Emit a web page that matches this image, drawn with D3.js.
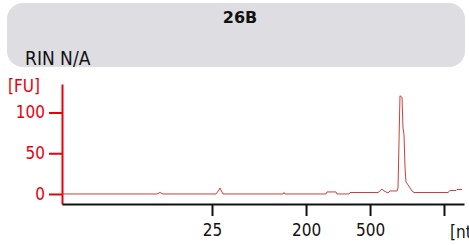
<!DOCTYPE html>
<html>
<head>
<meta charset="utf-8">
<script src="https://cdn.jsdelivr.net/npm/d3@7"></script>
<style>
  body { margin: 0; background: #fff; }
  svg { display: block; font-family: "DejaVu Sans Condensed", "DejaVu Sans", sans-serif; }
</style>
</head>
<body>
<script>
// electropherogram trace: migration time (s) and fluorescence (FU)
const times = [17.00, 29.05, 29.43, 29.81, 36.54, 36.92, 37.05, 37.17, 37.43, 45.04, 45.17, 45.29,
  50.49, 50.62, 51.76, 51.89, 53.41, 53.54, 57.09, 57.34, 57.60, 57.85, 58.11, 58.36, 58.61, 58.87,
  59.50, 59.63, 59.76, 59.88, 60.07, 60.14, 60.26, 60.39, 60.52, 60.64, 60.90, 61.15, 61.40, 61.66,
  65.97, 66.23, 66.99, 67.11, 67.75];
const fu = [0, 0, 1.8, 0, 0, 4.9, 7.4, 4.9, 0, 0, 1.8, 0,
  0, 2.5, 2.5, 0, 0, 1.8, 1.8, 3.7, 6.2, 3.7, 2.5, 1.2, 3.7, 3.7,
  3.7, 7.4, 66.4, 120.5, 119.3, 118.1, 81.2, 72.6, 32.0, 14.8, 11.1, 7.4, 3.7, 1.8,
  1.8, 4.3, 4.3, 5.5, 5.5];

const xTickTimes = [36.03, 47.96, 56.08, 65.46];
const xTickLabels = ['25', '200', '500', ''];
const yTicks = [0, 50, 100];

const sampleName = '26B';
const rinText = 'RIN N/A';

const width = 469, height = 245;

const svg = d3.select('body').append('svg')
    .attr('width', width)
    .attr('height', height);

// header box
svg.append('rect')
    .attr('x', 7)
    .attr('y', 3)
    .attr('width', 458)
    .attr('height', 64)
    .attr('rx', 16)
    .attr('fill', '#dedde2');

svg.append('text')
    .attr('x', 240)
    .attr('y', 23)
    .attr('text-anchor', 'middle')
    .attr('font-family', 'DejaVu Sans')
    .attr('font-weight', 'bold')
    .attr('font-size', 16)
    .attr('fill', '#111')
    .text(sampleName);

svg.append('text')
    .attr('x', 25)
    .attr('y', 65)
    .attr('font-size', 19)
    .attr('fill', '#111')
    .text(rinText);

const x = d3.scaleLinear()
    .domain([17, 68])
    .range([62, 464]);

const y = d3.scaleLinear()
    .domain([-12.3, 135])
    .range([204, 84]);

// y axis (red)
const yAxis = svg.append('g')
    .attr('transform', 'translate(62,0)')
    .call(d3.axisLeft(y)
        .tickValues(yTicks)
        .tickSize(13)
        .tickPadding(4)
        .tickSizeOuter(0));
yAxis.select('.domain').attr('stroke', '#e8000b').attr('stroke-width', 2);
yAxis.selectAll('.tick line').attr('stroke', '#e8000b').attr('stroke-width', 2);
yAxis.selectAll('.tick text')
    .attr('fill', '#e8000b')
    .attr('font-size', 17)
    .attr('font-family', 'DejaVu Sans Condensed, DejaVu Sans, sans-serif');

svg.append('text')
    .attr('x', 8)
    .attr('y', 92)
    .attr('font-size', 17)
    .attr('fill', '#e8000b')
    .text('[FU]');

// trace
const line = d3.line()
    .x((d, i) => x(times[i]))
    .y(d => y(d));

svg.append('path')
    .datum(fu)
    .attr('d', line)
    .attr('fill', 'none')
    .attr('stroke', '#d23c3c')
    .attr('stroke-width', 1);

// x axis (black)
const xAxis = svg.append('g')
    .attr('transform', 'translate(0,204)')
    .call(d3.axisBottom(x)
        .tickValues(xTickTimes)
        .tickFormat((d, i) => xTickLabels[i])
        .tickSize(12)
        .tickPadding(8)
        .tickSizeOuter(0));
xAxis.select('.domain').attr('stroke', '#111').attr('stroke-width', 2);
xAxis.selectAll('.tick line').attr('stroke', '#111').attr('stroke-width', 2);
xAxis.selectAll('.tick text')
    .attr('fill', '#111')
    .attr('font-size', 17)
    .attr('font-family', 'DejaVu Sans Condensed, DejaVu Sans, sans-serif');

svg.append('text')
    .attr('x', 450)
    .attr('y', 238)
    .attr('font-size', 17)
    .attr('fill', '#111')
    .text('[nt]');
</script>
</body>
</html>
